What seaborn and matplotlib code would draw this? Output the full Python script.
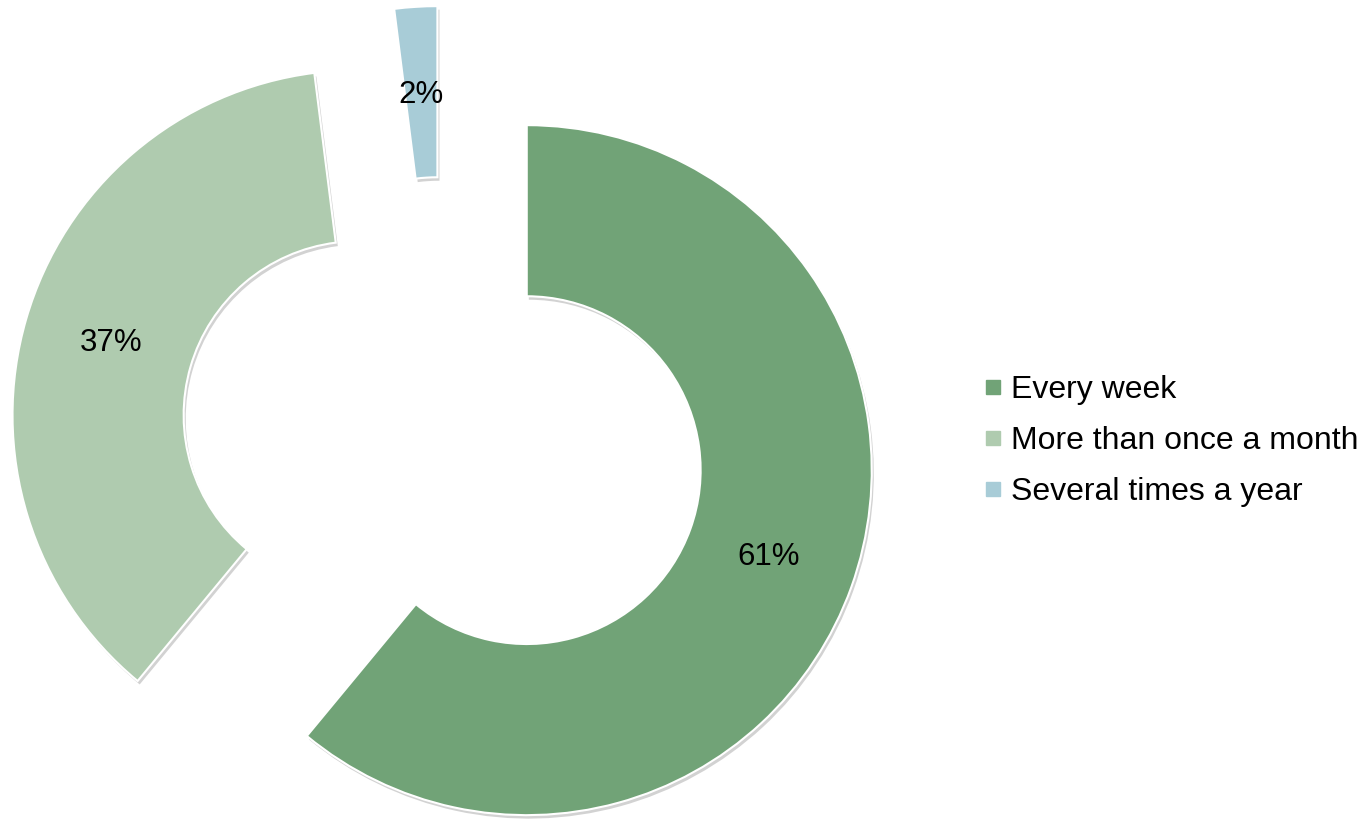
import matplotlib
matplotlib.use("Agg")
import matplotlib.pyplot as plt
import matplotlib.patheffects as pe
from matplotlib.lines import Line2D
import seaborn as sns

categories = ["Every week", "More than once a month", "Several times a year"]
values = [61, 37, 2]
colors = ["#71A377", "#AFCBAF", "#A8CCD7"]

sns.set_style("white")
plt.rcParams['font.family'] = ['Liberation Sans', 'DejaVu Sans']
plt.rcParams['text.color'] = 'black'

W, H = 1370, 819
fig = plt.figure(figsize=(W / 100, H / 100), dpi=100)
ax = fig.add_axes([0, 0, 1, 1])

R_px = 345.0
cx, cy = 443.0, 440.0

wedges, texts, autotexts = ax.pie(
    values,
    colors=colors,
    startangle=90,
    counterclock=False,
    radius=1.0,
    explode=[0.258] * len(values),
    autopct=lambda p: f"{p:.0f}%",
    pctdistance=0.745,
    wedgeprops=dict(width=0.496, edgecolor="white", linewidth=1.5),
    textprops=dict(fontsize=22.5, color="black"),
)
for w in wedges:
    w.set_path_effects([
        pe.SimplePatchShadow(offset=(1.5, -2.5), shadow_rgbFace="#808080", alpha=0.35),
        pe.Normal(),
    ])

ax.set_xlim(-cx / R_px, (W - cx) / R_px)
ax.set_ylim(-(H - cy) / R_px, cy / R_px)
ax.set_aspect("auto")
ax.axis("off")

handles = [Line2D([0], [0], marker="s", linestyle="none", markersize=9.5,
                  markerfacecolor=c, markeredgecolor=c) for c in colors]
leg = fig.legend(handles, categories, loc="center left",
                 bbox_to_anchor=(983 / W, 1 - 441 / H), frameon=False,
                 fontsize=23, handlelength=0.6, handletextpad=0.28,
                 labelspacing=0.66, borderpad=0, borderaxespad=0)
for t in leg.get_texts():
    t.set_color("black")

fig.savefig("out.png", dpi=100)
